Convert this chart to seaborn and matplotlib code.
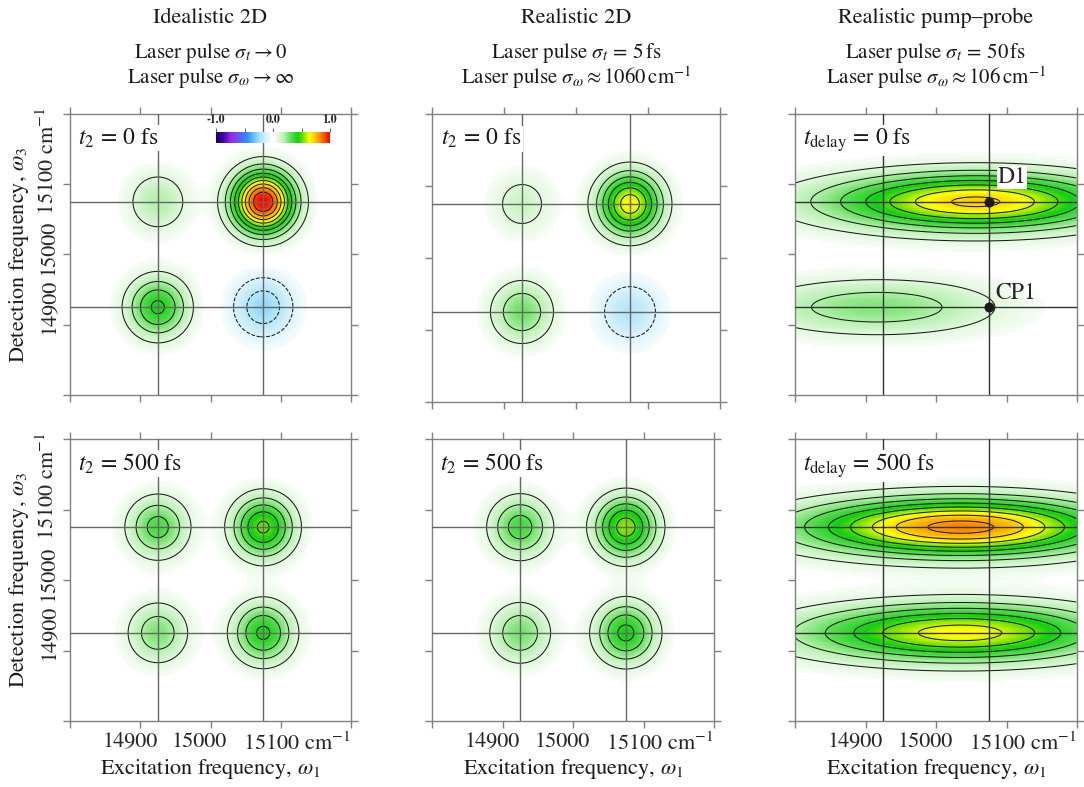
import numpy as np
import pandas as pd
import matplotlib
matplotlib.use("Agg")
import matplotlib.pyplot as plt
import seaborn as sns
from matplotlib.colors import LinearSegmentedColormap
from matplotlib.transforms import ScaledTranslation

sns.set_theme(style="white")
plt.rcParams['font.family'] = ['STIXGeneral', 'DejaVu Serif']
plt.rcParams['mathtext.fontset'] = 'stix'

# ---------------- data ----------------
axis_min, axis_max, grid_step = 14800, 15200, 2
tick_values = [14800, 14900, 15000, 15100, 15200]
tick_labels = ['', '14900', '15000', '15100 cm$^{-1}$', '']
peak_lines = [14925, 15075]

# peaks: upper-left cross, upper-right diagonal (D1), lower-left diagonal, lower-right cross (CP1)
peak_exc = [14925, 15075, 14925, 15075]
peak_det = [15075, 15075, 14925, 14925]

amp_ideal_0 = [0.20, 1.00, 0.42, -0.27]
amp_real_0 = [0.15, 0.66, 0.29, -0.20]
amp_pp_0 = [0.15, 0.64, 0.28, -0.03]
amp_ideal_500 = [0.34, 0.52, 0.27, 0.42]
amp_real_500 = [0.35, 0.55, 0.28, 0.43]
amp_pp_500 = [0.32, 0.65, 0.25, 0.50]

width_2d = 30.0          # cm^-1
width_pp_exc = 128.0     # cm^-1 (pump bandwidth broadening)
width_pp_det = 28.0

pos_levels = [0.1, 0.2, 0.3, 0.4, 0.5, 0.6, 0.7, 0.8, 0.9]
neg_levels = [-0.9, -0.8, -0.7, -0.6, -0.5, -0.4, -0.3, -0.2, -0.1]

col_titles = ['Idealistic 2D', 'Realistic 2D', 'Realistic pump\u2013probe']
col_sub1 = [r'Laser pulse $\sigma_t \rightarrow 0$',
            r'Laser pulse $\sigma_t\, =\, 5\,$fs',
            r'Laser pulse $\sigma_t\, =\, 50\,$fs']
col_sub2 = [r'Laser pulse $\sigma_\omega \rightarrow \infty$',
            r'Laser pulse $\sigma_\omega \approx 1060\,\mathrm{cm}^{-1}$',
            r'Laser pulse $\sigma_\omega \approx 106\,\mathrm{cm}^{-1}$']
panel_labels = [r'$t_2\, =\, 0$ fs', r'$t_2\, =\, 0$ fs', r'$t_{\mathrm{delay}}\, =\, 0$ fs',
                r'$t_2\, =\, 500$ fs', r'$t_2\, =\, 500$ fs', r'$t_{\mathrm{delay}}\, =\, 500$ fs']

# ---------------- colormap ----------------
cmap = LinearSegmentedColormap.from_list('spec', [
    (0.00, '#14005e'), (0.06, '#3c00a8'), (0.13, '#9a28e6'), (0.27, '#2e8cff'),
    (0.32, '#5cb8ff'), (0.38, '#a6e2f8'), (0.45, '#dcf4fc'), (0.4849, '#f6fcfe'),
    (0.485, '#ffffff'), (0.515, '#ffffff'), (0.5151, '#f7fdf6'), (0.55, '#e2f8de'),
    (0.60, '#b4f0ac'), (0.66, '#58dc50'), (0.72, '#10d010'), (0.77, '#80e400'),
    (0.82, '#ffff00'), (0.91, '#ff9400'), (1.00, '#ff0000')])

W, H = 1084, 787
fig = plt.figure(figsize=(W / 100, H / 100), dpi=100)


def rect(x0, y0, x1, y1):
    return [x0 / W, 1 - y1 / H, (x1 - x0) / W, (y1 - y0) / H]


centers = np.arange(axis_min + grid_step / 2, axis_max, grid_step)
n = len(centers)


def to_idx(v):
    return (np.asarray(v, dtype=float) - axis_min) / grid_step


def field(amps, sx, sy):
    X, Y = np.meshgrid(centers, centers)
    Z = np.zeros_like(X)
    for a, x0, y0 in zip(amps, peak_exc, peak_det):
        Z += a * np.exp(-(X - x0) ** 2 / (2 * sx ** 2) - (Y - y0) ** 2 / (2 * sy ** 2))
    return Z


panels = [
    (rect(70, 114, 351, 395), amp_ideal_0, width_2d, width_2d),
    (rect(432, 114, 720, 402), amp_real_0, width_2d, width_2d),
    (rect(795, 114, 1077, 395), amp_pp_0, width_pp_exc, width_pp_det),
    (rect(70, 439, 351, 721), amp_ideal_500, width_2d, width_2d),
    (rect(432, 439, 714, 721), amp_real_500, width_2d, width_2d),
    (rect(795, 439, 1077, 721), amp_pp_500, width_pp_exc, width_pp_det),
]

x_off = [0, -10, -11, 16, 0]
y_off = [0, 18, 7, 23, 0]
frame_col = '#808080'

for k, (r, amps, sx, sy) in enumerate(panels):
    ax = fig.add_axes(r)
    Z = field(amps, sx, sy)
    cbar = (k == 0)
    if cbar:
        cax = fig.add_axes(rect(216, 132, 330, 143))
        kws = dict(cbar=True, cbar_ax=cax, cbar_kws={'orientation': 'horizontal'})
    else:
        kws = dict(cbar=False)
    sns.heatmap(pd.DataFrame(Z), ax=ax, cmap=cmap, vmin=-1, vmax=1,
                xticklabels=False, yticklabels=False, rasterized=True, **kws)
    ax.set_xlim(0, n)
    ax.set_ylim(0, n)
    idx = np.arange(n) + 0.5
    ax.contour(idx, idx, Z, levels=pos_levels, colors='k', linewidths=0.75, linestyles='solid')
    ax.contour(idx, idx, Z, levels=neg_levels, colors='k', linewidths=0.75, linestyles='dashed')
    line_col = '#333333' if k % 3 == 2 else '#666666'
    for v in peak_lines:
        ax.axvline(to_idx(v), color=line_col, lw=1.0, zorder=3)
        ax.axhline(to_idx(v), color=line_col, lw=1.0, zorder=3)
    for s in ax.spines.values():
        s.set_visible(True)
        s.set_color(frame_col)
        s.set_linewidth(1.0)
    ax.set_xticks(to_idx(tick_values))
    ax.set_yticks(to_idx(tick_values))
    ax.tick_params(which='both', direction='out', length=5, width=1, color=frame_col,
                   top=True, right=True, bottom=True, left=True,
                   labelbottom=(k >= 3), labelleft=(k % 3 == 0),
                   labeltop=False, labelright=False, labelsize=16, pad=3)
    if k >= 3:
        ax.set_xticklabels(tick_labels)
        for lab, dx in zip(ax.get_xticklabels(), x_off):
            lab.set_transform(lab.get_transform() + ScaledTranslation(dx / 100, 0, fig.dpi_scale_trans))
        ax.set_xlabel(r'Excitation frequency, $\omega_1$', fontsize=16, labelpad=2, color='k')
    else:
        ax.set_xticklabels([])
    if k % 3 == 0:
        ax.set_yticklabels(tick_labels, rotation=90, va='center')
        for lab, dy in zip(ax.get_yticklabels(), y_off):
            lab.set_transform(lab.get_transform() + ScaledTranslation(0, dy / 100, fig.dpi_scale_trans))
        ax.set_ylabel(r'Detection frequency, $\omega_3$', fontsize=16, labelpad=4, color='k')
    else:
        ax.set_yticklabels([])
    ax.text(0.03, 0.955, panel_labels[k], transform=ax.transAxes, ha='left', va='top',
            fontsize=17, color='k', zorder=6,
            bbox=dict(facecolor='white', edgecolor='none', pad=1.0))

    if k == 2:
        px = to_idx([15075, 15075])
        py = to_idx([15075, 14925])
        sns.scatterplot(x=px, y=py, ax=ax, color='k', s=45, zorder=7, edgecolor='k', legend=False)
        ax.annotate('D1', (px[0], py[0]), xytext=(9, 14), textcoords='offset pixels',
                    fontsize=17, ha='left', va='bottom', zorder=8,
                    bbox=dict(facecolor='white', edgecolor='none', pad=0.5))
        ax.annotate('CP1', (px[1], py[1]), xytext=(6, 3), textcoords='offset pixels',
                    fontsize=17, ha='left', va='bottom', zorder=8)
    if cbar:
        cax.xaxis.set_ticks_position('top')
        cax.set_xticks([-1, -0.5, 0, 0.5, 1])
        cax.set_xticklabels(['-1.0', '', '0.0', '', '1.0'])
        cax.tick_params(axis='x', which='both', direction='out', length=3, width=0.8,
                        color='#666666', labelsize=8.5, pad=1, top=True, bottom=False,
                        labeltop=True, labelbottom=False)
        for lab in cax.get_xticklabels():
            lab.set_fontweight('bold')
        cax.set_zorder(10)

col_centers = [210.5, 576, 936]
for c, t, s1, s2 in zip(col_centers, col_titles, col_sub1, col_sub2):
    fig.text(c / W, 1 - 18 / H, t, ha='center', va='center', fontsize=16, color='k')
    fig.text(c / W, 1 - 53 / H, s1, ha='center', va='center', fontsize=15, color='k')
    fig.text(c / W, 1 - 78 / H, s2, ha='center', va='center', fontsize=15, color='k')

fig.savefig('out.png', dpi=100)
